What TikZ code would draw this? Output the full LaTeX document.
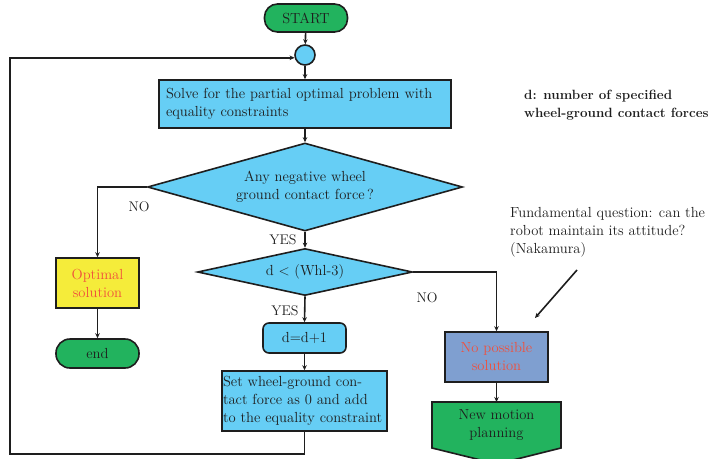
\documentclass[tikz,border=0pt]{standalone}
\usetikzlibrary{shapes.geometric,arrows.meta,calc}
\definecolor{cblue}{RGB}{102,206,245}
\definecolor{cgreen}{RGB}{34,179,94}
\definecolor{cyellow}{RGB}{245,236,58}
\definecolor{cslate}{RGB}{127,159,208}
\definecolor{cred}{RGB}{240,80,60}
\definecolor{cline}{RGB}{30,30,30}
\begin{document}
\begin{tikzpicture}[x=1pt,y=-1pt,
  every node/.style={font=\fontsize{14.6}{18}\selectfont, text=cline, inner sep=0pt},
  ln/.style={draw=cline, line width=1.6pt},
  arr/.style={ln, -{Stealth[length=5pt,width=4.5pt]}},
  term/.style={draw=cline, line width=1.6pt, fill=cgreen, rounded corners=13pt, minimum width=83pt, minimum height=28pt},
  procbox/.style={draw=cline, line width=1.6pt, fill=cblue},
  decision/.style={draw=cline, line width=1.6pt, fill=cblue, diamond, align=center},
  lbl/.style={font=\fontsize{14}{18}\selectfont}
]
\useasboundingbox (0,0) rectangle (709,458);

\node[term] (start) at (306,18) {START};
\node[draw=cline, line width=1.6pt, fill=cblue, circle, minimum size=20pt] (circ) at (305,55) {};
\node[procbox, minimum width=292pt, minimum height=48pt, text width=278pt, align=left] (solve) at (305,104)
  {Solve for the partial optimal problem with\\equality constraints};
\node[decision, aspect=3.58, minimum width=315pt, minimum height=88pt] (d1) at (305,187)
  {Any negative wheel\\ground contact force\,?};
\node[decision, aspect=4.57, minimum width=215pt, minimum height=47pt] (d2) at (305,272) {d < (Whl-3)};
\node[draw=cline, line width=1.6pt, fill=cyellow, minimum width=83pt, minimum height=50pt, align=center, text=cred] (opt) at (97.5,283) {Optimal\\solution};
\node[term, minimum height=29pt, rounded corners=14pt] (end) at (97.5,353.5) {end};
\node[procbox, rounded corners=6pt, minimum width=83pt, minimum height=30pt] (inc) at (304.5,338) {d=d+1};
\node[procbox, minimum width=165pt, minimum height=60pt, text width=163pt, align=left] (set) at (304.5,401)
  {Set wheel-ground con-\\tact force as 0 and add\\to the equality constraint};
\node[draw=cline, line width=1.6pt, fill=cslate, minimum width=103pt, minimum height=50pt, align=center, text=cred] (nps) at (496.5,357) {No possible\\solution};

% New motion planning (pentagon pointing down)
\filldraw[draw=cline, line width=1.6pt, fill=cgreen]
  (432,402) -- (561,402) -- (561,448) -- (497,464) -- (432,448) -- cycle;
\node[align=center] (nmp) at (496.5,425) {New motion\\planning};
\coordinate (nmptop) at (496.5,402);

% annotations
\node[anchor=west, align=left, font=\fontsize{13.4}{18}\selectfont\bfseries] (note1) at (524,105)
  {d: number of specified\\wheel-ground contact forces};
\node[anchor=west, align=left] (note2) at (510,232)
  {Fundamental question: can the\\robot maintain its attitude?\\(Nakamura)};
\coordinate (a1) at (577,270);
\coordinate (a2) at (535,318);
\draw[arr] (a1) -- (a2);

% connectors
\draw[arr] (start) -- (circ);
\draw[arr] (circ) -- (solve);
\draw[arr] (solve) -- (d1);
\draw[arr] (d1.west) -| (opt.north);
\draw[arr] (d1.south) -- (d2.north);
\draw[arr] (d2.south) -- (inc.north);
\draw[arr] (d2.east) -| (nps.north);
\draw[arr] (opt) -- (end);
\draw[arr] (inc) -- (set);
\draw[arr] (nps.south) -- (nmptop);
\coordinate (lb) at (10,454);
\draw[arr] (set.south) |- (lb) -- (lb |- circ.195) -- (circ.195);

% labels
\node[lbl] (no1) at (139,207) {NO};
\node[lbl] (yes1) at (283,240) {YES};
\node[lbl] (yes2) at (285,311) {YES};
\node[lbl] (no2) at (427,298) {NO};
\end{tikzpicture}
\end{document}
